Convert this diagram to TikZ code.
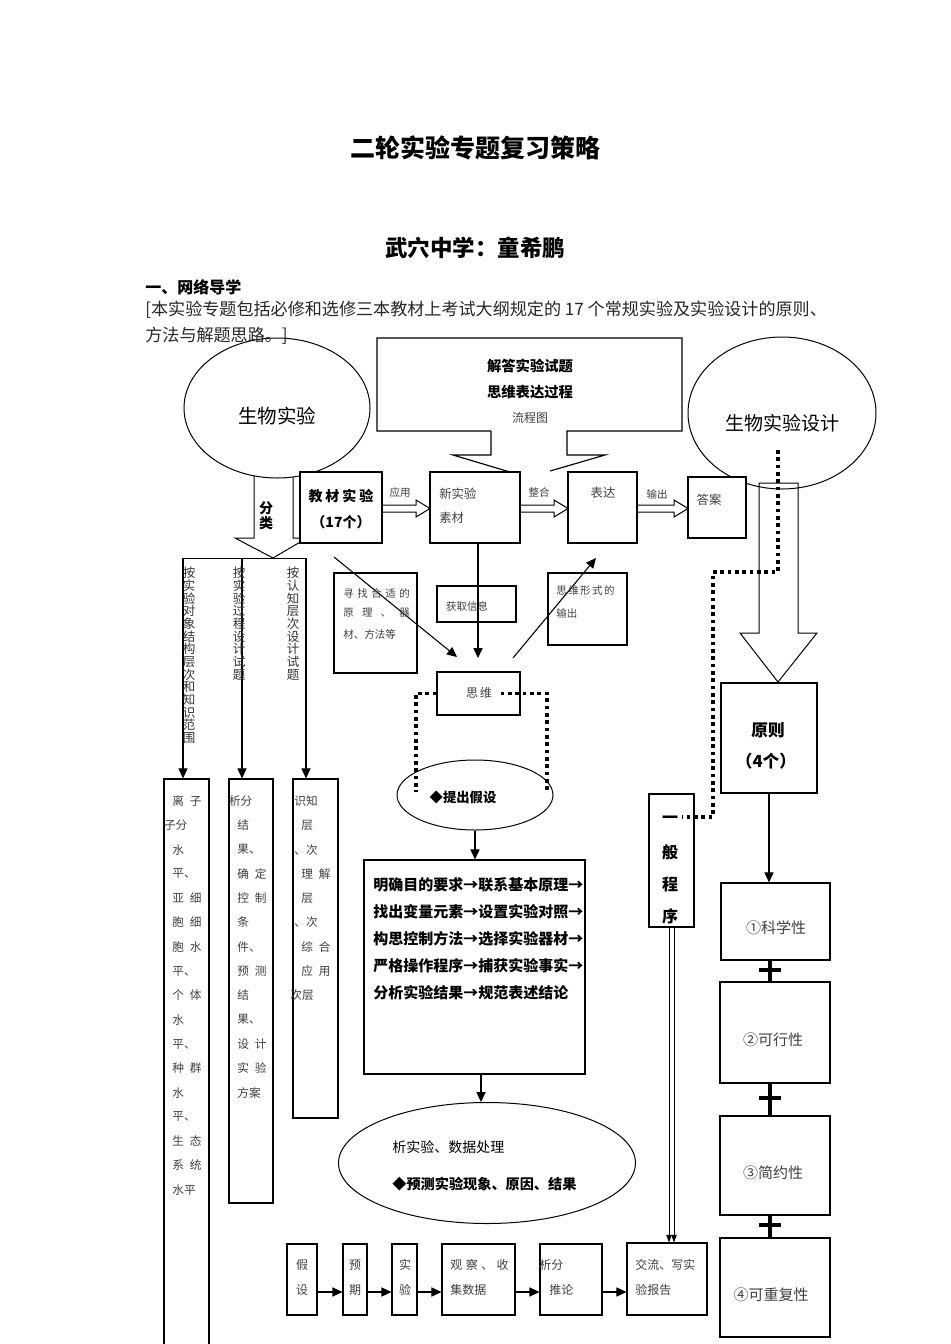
\documentclass[tikz,border=0pt]{standalone}
\usepackage{fontspec}
\setmainfont{Noto Sans CJK SC}
\usetikzlibrary{arrows.meta, shapes.geometric, fit, calc}

\newcommand\fsz[1]{\fontsize{#1}{#1}\selectfont}
\newcommand\gp{\hspace{3.5pt}}
\newcommand\bk{\hspace*{-5pt}}
\newcommand\bkc{\hspace*{-4.2pt}}

\tikzset{
  box/.style={draw, line width=0.7pt, inner sep=0pt, fill=white},
  oval/.style={draw, ellipse, line width=0.6pt, inner sep=0pt},
  lbl/.style={inner sep=0pt, text=black!75, font=\fsz{7}},
  hd/.style={inner sep=0pt, font=\bfseries\fsz{#1}},
  vtxt/.style={inner sep=0pt, text=black!80, align=center, anchor=north, font=\fontsize{7.5}{7.6}\selectfont},
  arr/.style={line width=0.65pt, -{Triangle[length=6pt,width=5.5pt]}},
  arrtwin/.style={line width=0.5pt, -{Triangle[length=4.5pt,width=3.2pt]}},
  dotline/.style={line width=2.2pt, dash pattern=on 2.2pt off 2.2pt},
  plusbar/.style={line width=2.4pt},
  hollow/.style={draw, line width=0.6pt},
}

\begin{document}
\begin{tikzpicture}[x=0.6pt, y=-0.6pt]
\useasboundingbox (0,0) rectangle (950,1344);
\fill[white] (0,0) rectangle (950,1344);

% heading
\node[hd=15] (title) at (475,148) {二轮实验专题复习策略};
\node[hd=13.5] (author) at (475,248) {武穴中学：童希鹏};
\node[hd=9.6, anchor=west] (sec) at (145,287) {一、网络导学};

% classify arrow + the two big ovals
\draw[hollow, fill=white] (254,468) -- (254,538) -- (235,538) -- (273,558) -- (307,538) -- (293,538) -- (293,468);
\node[oval, fill=white, minimum width=111.6pt, minimum height=84pt] (bio) at (277,408) {};
\node[oval, fill=white, minimum width=112.8pt, minimum height=91.2pt] (bioD) at (782,413) {};

\node[inner sep=0pt, text=black!85, font=\fsz{10.25}, anchor=west] (intro1) at (145,310)
  {[本实验专题包括必修和选修三本教材上考试大纲规定的 17 个常规实验及实验设计的原则、};
\node[inner sep=0pt, text=black!85, font=\fsz{10.25}, anchor=west] (intro2) at (145,336) {方法与解题思路。]};

% callout
\draw[line width=0.7pt] (491,431) -- (377,431) -- (377,338) -- (682,338) -- (682,431) -- (567,431)
  -- (567,455) -- (605,455) -- (550,471);
\draw[line width=0.7pt] (491,431) -- (491,455) -- (453,455) -- (510,472);

% boxes
\foreach \n/\xa/\ya/\xb/\yb in {
  jc/300/472/382/543, xin/430/472/520/543, bd/568/472/637/543, da/688/477/746/538,
  xz/334/573/417/673, hq/437/586/516/622, sx/548/573/627/645, sw/437/672/520/715,
  ka/164/779/209/1350, kb/229/779/273/1203, kc/293/779/338/1118, mq/364/860/585/1074,
  js/287/1244/317/1315, yq/343/1244/367/1315, sy/392/1244/417/1315, gc/442/1244/515/1315,
  fx/540/1244/602/1315, jl/627/1243/707/1315, yb/649/794/694/927, yz/721/683/817/793,
  p1/721/883/830/960, p2/720/982/830/1083, p3/720/1116/830/1215, p4/720/1238/830/1337}
  \node[box, fit={(\xa,\ya) (\xb,\yb)}] (\n) {};

% principle arrow
\draw[hollow] (759,483) -- (759,633) -- (740,633) -- (778,682) -- (817,633) -- (798,633) -- (798,483) -- cycle;

\node[oval, minimum width=93.6pt, minimum height=42pt] (ja) at (475,795) {};
\node[oval, minimum width=178.2pt, minimum height=72.6pt] (el2) at (487,1163) {};

% block arrows in the top row
\foreach \xa/\xb in {382/430, 520/568, 637/688}
  \draw[hollow] (\xa,505) -- (\xb-14,505) -- (\xb-14,500) -- (\xb,508.5) -- (\xb-14,517)
    -- (\xb-14,512) -- (\xa,512) -- cycle;

% branches
\coordinate (brL) at (183,558);
\coordinate (brM) at (242,558);
\coordinate (brR) at (306,558);
\draw[line width=0.6pt] (brL) -- ([xshift=0.6pt]brR);
\draw[arr] (brL) -- (brL |- ka.north);
\draw[arr] (brM) -- (brM |- kb.north);
\draw[arr] (brR) -- (brR |- kc.north);

% thinking arrows
\coordinate (d1s) at (334,557);
\coordinate (d1e) at (457,657);
\coordinate (vE) at (478,658);
\coordinate (uS) at (513,658);
\coordinate (uE) at (596,558);
\draw[arr] (d1s) -- (d1e);
\draw[arr] (xin.south -| vE) -- (vE);
\draw[arr] (uS) -- (uE);

\draw[arr] (ja.south) -- (ja.south |- mq.north);
\coordinate (m2) at (481,1072);
\draw[arr] (mq.south -| m2) -- (m2 |- el2.north);

\coordinate (ry) at (0,1292);
\foreach \a/\b in {js/yq, yq/sy, sy/gc, gc/fx, fx/jl}
  \draw[arr] (\a.east |- ry) -- (\b.west |- ry);

\draw[arrtwin] ([xshift=-1.5pt]yb.south) -- ([xshift=-1.5pt]yb.south |- jl.north);
\draw[arrtwin] ([xshift=1.5pt]yb.south) -- ([xshift=1.5pt]yb.south |- jl.north);

\draw[arr] (yz.south) -- (yz.south |- p1.north);

\coordinate (px) at (770,0);
\foreach \a/\b in {p1/p2, p2/p3, p3/p4} {
  \draw[plusbar] (\a.south -| px) -- (\b.north -| px);
  \path ($(\a.south -| px)!0.45!(\b.north -| px)$) coordinate (pm);
  \draw[plusbar] ([xshift=-6.6pt]pm) -- ([xshift=6.6pt]pm);
}

% dotted links
\coordinate (dl) at (416,792);
\coordinate (dr) at (547,792);
\draw[dotline] (sw.west) -- (sw.west -| dl) -- (dl);
\draw[dotline] ([xshift=-12pt]sw.east) -- (sw.east -| dr) -- (dr);
\coordinate (q1) at (778,450);
\coordinate (q2) at (713,572);
\coordinate (q3) at (682,817);
\draw[dotline] (q1) -- (q1 |- q2) -- (q2) -- (q2 |- q3) -- (q3);

% texts
\node[hd=8.6] (c1) at (530,366) {解答实验试题};
\node[hd=8.6] (c2) at (530,392) {思维表达过程};
\node[lbl, font=\fsz{7.2}] (c3) at (530,418) {流程图};
\node[inner sep=0pt, font=\fsz{11.7}] (bioT) at (277,416) {生物实验};
\node[inner sep=0pt, font=\fsz{11.4}] (bioDT) at (782,423) {生物实验设计};
\node[hd=8.4] (jcT1) at (341,496) {\makebox[39pt]{教\hfill 材\hfill 实\hfill 验}};
\node[hd=8.4] (jcT2) at (341,522) {（17个）};
\node[hd=8.4] (fl1) at (266,508) {分};
\node[hd=8.4] (fl2) at (266,523) {类};

\node[lbl, font=\fsz{6.3}] (ly) at (400,492) {应用};
\node[lbl, font=\fsz{6.3}] (zh) at (539,492) {整合};
\node[lbl, font=\fsz{6.3}] (sc) at (657,494) {输出};
\node[lbl, font=\fsz{7.4}, anchor=west] (xinT1) at (439,494) {新实验};
\node[lbl, font=\fsz{7.4}, anchor=west] (xinT2) at (439,518) {素材};
\node[lbl, font=\fsz{7.4}] (bdT) at (603,493) {表达};
\node[lbl, font=\fsz{7.4}] (daT) at (709,500) {答案};

\node[vtxt] (v1) at (189,567) {按\\实\\验\\对\\象\\结\\构\\层\\次\\和\\知\\识\\范\\围};
\node[vtxt] (v2) at (239,567) {按\\实\\验\\过\\程\\设\\计\\试\\题};
\node[vtxt] (v3) at (293,567) {按\\认\\知\\层\\次\\设\\计\\试\\题};

\node[lbl, font=\fsz{6.3}, anchor=west] (xz1) at (343,593) {\makebox[40pt]{寻\hfill 找\hfill 合\hfill 适\hfill 的}};
\node[lbl, font=\fsz{6.3}, anchor=west] (xz2) at (343,613) {\makebox[40pt]{原\hfill 理\hfill 、\hfill 器}};
\node[lbl, font=\fsz{6.3}, anchor=west] (xz3) at (343,634) {材、方法等};
\node[lbl, font=\fsz{6.3}] (hqT) at (467,606) {获取信息};
\node[lbl, font=\fsz{6.3}, anchor=west] (sx1) at (556,591) {\makebox[35pt]{思\hfill 维\hfill 形\hfill 式\hfill 的}};
\node[lbl, font=\fsz{6.3}, anchor=west] (sx2) at (556,613) {输出};
\node[lbl, font=\fsz{7.2}] (swT) at (479,693) {\makebox[15.5pt]{思\hfill 维}};

\foreach \t [count=\i] in {离\gp 子, \bk 子分, 水, 平、, 亚\gp 细, 胞\gp 细, 胞\gp 水, 平、,
    个\gp 体, 水, 平、, 种\gp 群, 水, 平、, 生\gp 态, 系\gp 统, 水平}
  \node[lbl, anchor=west] (ka\i) at (172, 801+24.3*\i-24.3) {\t};
\foreach \t [count=\i] in {\bk 析分, 结, 果、, 确\gp 定, 控\gp 制, 条, 件、, 预\gp 测, 结, 果、,
    设\gp 计, 实\gp 验, 方案}
  \node[lbl, anchor=west] (kb\i) at (237, 801+24.3*\i-24.3) {\t};
\foreach \t [count=\i] in {\bkc 识知, 层, \bkc 、次, 理\gp 解, 层, \bkc 、次, 综\gp 合, 应\gp 用, \hspace*{-6.6pt}次层}
  \node[lbl, anchor=west] (kc\i) at (301, 801+24.3*\i-24.3) {\t};

\node[hd=8] (jaT) at (463,797) {◆提出假设};
\foreach \t [count=\i] in {明确目的要求→联系基本原理→, 找出变量元素→设置实验对照→,
    构思控制方法→选择实验器材→, 严格操作程序→捕获实验事实→, 分析实验结果→规范表述结论}
  \node[hd=9, anchor=west] (mq\i) at (373, 885+27*\i-27) {\t};

\node[inner sep=0pt, font=\fsz{8.4}, anchor=west] (el2a) at (392,1147) {析实验、数据处理};
\node[hd=8.5, anchor=west] (el2b) at (392,1184) {◆预测实验现象、原因、结果};

\node[lbl, font=\fsz{7.2}] (jsT1) at (302,1265) {假};
\node[lbl, font=\fsz{7.2}] (jsT2) at (302,1290) {设};
\node[lbl, font=\fsz{7.2}] (yqT1) at (355,1265) {预};
\node[lbl, font=\fsz{7.2}] (yqT2) at (355,1290) {期};
\node[lbl, font=\fsz{7.2}] (syT1) at (405,1265) {实};
\node[lbl, font=\fsz{7.2}] (syT2) at (405,1290) {验};
\node[lbl, font=\fsz{7.2}, anchor=west] (gcT1) at (450,1265) {\makebox[35pt]{观\hfill 察\hfill 、\hfill 收}};
\node[lbl, font=\fsz{7.2}, anchor=west] (gcT2) at (450,1290) {集数据};
\node[lbl, font=\fsz{7.2}, anchor=west] (fxT1) at (539,1265) {析分};
\node[lbl, font=\fsz{7.2}, anchor=west] (fxT2) at (549,1290) {推论};
\node[lbl, font=\fsz{7.2}, anchor=west] (jlT1) at (635,1265) {交流、写实};
\node[lbl, font=\fsz{7.2}, anchor=west] (jlT2) at (635,1290) {验报告};

\foreach \c [count=\i] in {一, 般, 程, 序}
  \node[hd=9.6] (ybT\i) at (670, 820+32*\i-32) {\c};
\node[hd=10] (yzT1) at (768,730) {原则};
\node[hd=10] (yzT2) at (766,761) {（4个）};
\node[lbl, font=\fsz{9}] (p1T) at (776,928) {①科学性};
\node[lbl, font=\fsz{9}] (p2T) at (773,1040) {②可行性};
\node[lbl, font=\fsz{9}] (p3T) at (773,1173) {③简约性};
\node[lbl, font=\fsz{9}] (p4T) at (771,1295) {④可重复性};
\end{tikzpicture}
\end{document}
